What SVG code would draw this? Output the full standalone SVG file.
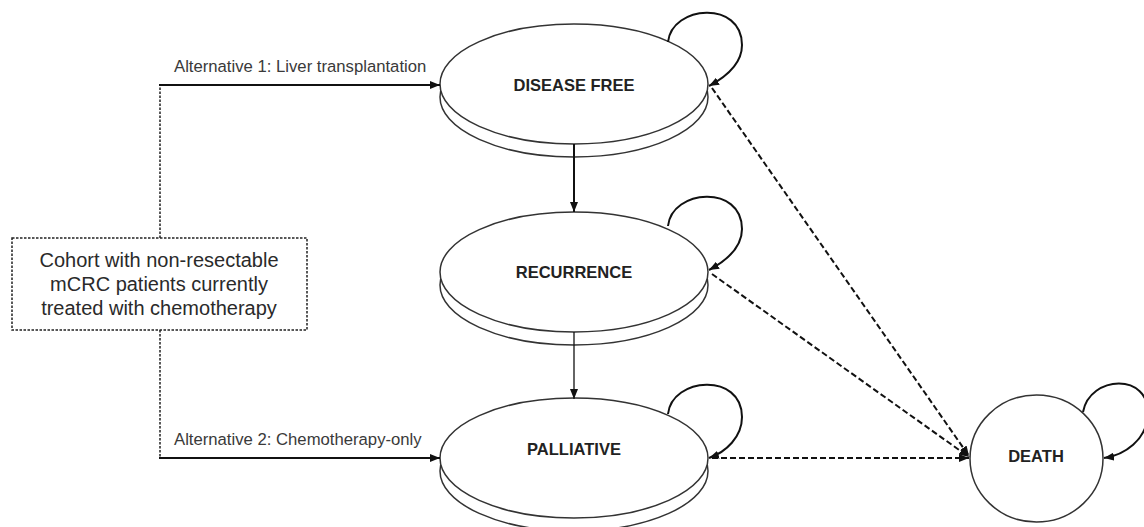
<svg xmlns="http://www.w3.org/2000/svg" width="1144" height="527" viewBox="0 0 1144 527">
<style>
.node{fill:#fff;stroke:#333;stroke-width:1.5}
.lbl{font-family:"Liberation Sans",Arial,sans-serif;font-weight:bold;font-size:16.5px;fill:#222;text-anchor:middle}
.alt{font-family:"Liberation Sans",Arial,sans-serif;font-size:16.7px;fill:#3a3a3a}
.cohort{font-family:"Liberation Sans",Arial,sans-serif;font-size:20px;fill:#2a2a2a;text-anchor:middle}
.solid{fill:none;stroke:#111;stroke-width:2}
.thin{fill:none;stroke:#111;stroke-width:1.3}
.dash{fill:none;stroke:#111;stroke-width:2;stroke-dasharray:6 3}
.dot{fill:none;stroke:#222;stroke-width:1.5;stroke-dasharray:2.5 1.5}
</style>
<defs>
<marker id="arr" markerUnits="userSpaceOnUse" markerWidth="10" markerHeight="8" refX="10" refY="4" orient="auto">
<path d="M0,0 L10,4 L0,8 z" fill="#111"/>
</marker>
</defs>
<rect width="1144" height="527" fill="#fff"/>
<g id="cohort">
<rect x="12" y="238" width="295" height="92" fill="#fff" class="dot"/>
<text class="cohort" x="159" y="267">Cohort with non-resectable</text>
<text class="cohort" x="159" y="291">mCRC patients currently</text>
<text class="cohort" x="159" y="315">treated with chemotherapy</text>
</g>
<g id="disease-free">
<ellipse class="node" cx="574" cy="97" rx="134" ry="60"/>
<ellipse class="node" cx="574" cy="84" rx="134" ry="60"/>
<text class="lbl" x="574" y="91">DISEASE FREE</text>
</g>
<g id="recurrence">
<ellipse class="node" cx="574" cy="285" rx="134" ry="60"/>
<ellipse class="node" cx="574" cy="272" rx="134" ry="60"/>
<text class="lbl" x="574" y="278">RECURRENCE</text>
</g>
<g id="palliative">
<ellipse class="node" cx="574" cy="471" rx="134" ry="60"/>
<ellipse class="node" cx="574" cy="458" rx="134" ry="60"/>
<text class="lbl" x="574" y="455">PALLIATIVE</text>
</g>
<g id="death">
<ellipse class="node" cx="1036.5" cy="458.5" rx="66.5" ry="63.5"/>
<text class="lbl" x="1036" y="462">DEATH</text>
</g>
<g id="connectors">
<polyline class="dot" points="160,238 160,85"/>
<polyline class="dot" points="160,330 160,458"/>
<line class="solid" x1="159" y1="85" x2="440" y2="85" marker-end="url(#arr)"/>
<line class="solid" x1="159" y1="458" x2="440" y2="458" marker-end="url(#arr)"/>
<text class="alt" x="174" y="72">Alternative 1: Liver transplantation</text>
<text class="alt" x="174" y="445">Alternative 2: Chemotherapy-only</text>
<line class="solid" x1="574" y1="144" x2="574" y2="212" marker-end="url(#arr)"/>
<line class="thin" x1="574" y1="332" x2="574" y2="399" marker-end="url(#arr)"/>
<path class="solid" d="M668,42 C672,5 742,0 742,45 C742,65 724,78 709,86" marker-end="url(#arr)"/>
<path class="solid" d="M668,226 C672,189 742,184 742,229 C742,249 724,262 709,270" marker-end="url(#arr)"/>
<path class="solid" d="M668,414 C672,377 742,372 742,417 C742,437 726,452 709,458" marker-end="url(#arr)"/>
<path class="solid" d="M1083,412 C1090,375 1150,372 1148,415 C1146,440 1125,455 1104,458" marker-end="url(#arr)"/>
<line class="dash" x1="712" y1="88" x2="969" y2="456" marker-end="url(#arr)"/>
<line class="dash" x1="712" y1="274" x2="969" y2="457" marker-end="url(#arr)"/>
<line class="dash" x1="712" y1="458" x2="969" y2="458" marker-end="url(#arr)"/>
</g>
</svg>
